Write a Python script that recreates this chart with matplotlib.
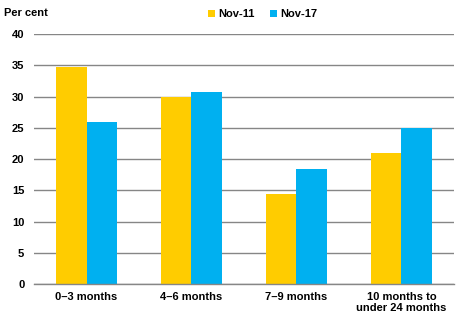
import matplotlib
matplotlib.use("Agg")
import matplotlib.pyplot as plt
import numpy as np

categories = ["0\u20133 months", "4\u20136 months", "7\u20139 months", "10 months to\nunder 24 months"]
nov11 = [34.8, 29.9, 14.4, 20.9]
nov17 = [25.9, 30.8, 18.4, 25.0]
yticks = [0, 5, 10, 15, 20, 25, 30, 35, 40]

plt.rcParams['font.family'] = ['Liberation Sans', 'DejaVu Sans']
plt.rcParams['font.weight'] = 'bold'

fig = plt.figure(figsize=(4.69, 3.27), dpi=100)
ax = fig.add_axes([0.0725, 0.1315, 0.8955, 0.7645])

x = np.arange(len(categories))
w = 0.286
ax.bar(x - w/2, nov11, w, color="#FFCC00", label="Nov-11", zorder=3)
ax.bar(x + w/2, nov17, w, color="#00B0F0", label="Nov-17", zorder=3)

ax.set_xlim(-0.5, len(categories) - 0.5)
ax.set_ylim(0, 40)
ax.set_yticks(yticks)
ax.set_yticklabels([str(v) for v in yticks], fontsize=8, fontweight='bold')
ax.set_xticks(x)
ax.set_xticklabels(categories, fontsize=8, fontweight='bold', linespacing=1.1)
ax.tick_params(axis='both', length=0, pad=6)
ax.tick_params(axis='y', pad=7)
ax.yaxis.grid(True, color="#868686", linewidth=1.0, zorder=0)
for s in ["top", "right", "left"]:
    ax.spines[s].set_visible(False)
ax.spines["bottom"].set_color("#868686")
ax.spines["bottom"].set_linewidth(1.0)
ax.spines["bottom"].set_zorder(4)

fig.text(4/469, 1 - 13/327, "Per cent", fontsize=8, fontweight='bold', va='center', ha='left')
fig.legend(loc='center', bbox_to_anchor=(263/469, 1 - 14/327), ncol=2, frameon=False,
           handlelength=0.6, handleheight=0.6, handletextpad=0.3,
           columnspacing=1.4, prop={'weight': 'bold', 'size': 8})

fig.savefig("out.png", dpi=100)
